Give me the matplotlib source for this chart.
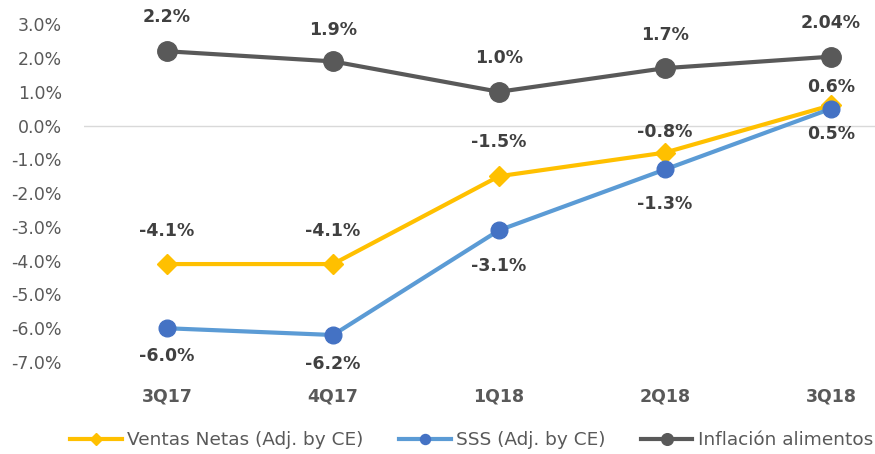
import numpy as np
import matplotlib.pyplot as plt

quarters = ['3Q17', '4Q17', '1Q18', '2Q18', '3Q18']
ventas_netas = [-4.1, -4.1, -1.5, -0.8, 0.6]
sss = [-6.0, -6.2, -3.1, -1.3, 0.5]
inflacion = [2.2, 1.9, 1.0, 1.7, 2.04]
inflacion_labels = ['2.2%', '1.9%', '1.0%', '1.7%', '2.04%']
yticks = np.arange(-7, 4, 1)

# label offsets (pixels, + above / - below the point)
ventas_off = [33, 33, 34, 21, 18]
sss_off = [-28, -29, -36, -35, -25]
infl_off = [34, 31, 34, 33, 34]

plt.rcParams['font.family'] = ['DejaVu Sans']
txt_color = '#595959'

fig = plt.figure(figsize=(8.75, 4.54), dpi=100)
ax = fig.add_axes([0.096, 0.2026, 0.904, 0.744])

x = np.arange(len(quarters))
ax.axhline(0, color='#D9D9D9', lw=1, zorder=1)

ax.plot(x, ventas_netas, color='#FFC000', lw=3, marker='D', ms=10,
        label='Ventas Netas (Adj. by CE)', zorder=3)
ax.plot(x, sss, color='#5B9BD5', lw=3, marker='o', ms=12,
        markerfacecolor='#4472C4', markeredgecolor='#4472C4',
        label='SSS (Adj. by CE)', zorder=3)
ax.plot(x, inflacion, color='#595959', lw=3, marker='o', ms=14,
        label='Inflación alimentos', zorder=3)

lab_kw = dict(ha='center', va='center', fontsize=12.5, fontweight='bold', color='#404040',
              textcoords='offset pixels')
for xi, v, o in zip(x, ventas_netas, ventas_off):
    ax.annotate(f'{v:.1f}%', (xi, v), xytext=(0, o), **lab_kw)
for xi, v, o in zip(x, sss, sss_off):
    ax.annotate(f'{v:.1f}%', (xi, v), xytext=(0, o), **lab_kw)
for xi, v, t, o in zip(x, inflacion, inflacion_labels, infl_off):
    ax.annotate(t, (xi, v), xytext=(0, o), **lab_kw)

ax.set_xlim(-0.5, 4.265)
ax.set_ylim(-7, 3)
ax.set_yticks(yticks)
ax.set_yticklabels([f'{v:.1f}%' for v in yticks])
ax.set_xticks(x)
ax.set_xticklabels(quarters, fontweight='bold')
ax.tick_params(axis='y', length=0, pad=16, labelsize=12.5, labelcolor=txt_color)
ax.tick_params(axis='x', length=0, pad=18, labelsize=12.5, labelcolor=txt_color)
for s in ax.spines.values():
    s.set_visible(False)

fig.legend(loc='center', bbox_to_anchor=(0.539, 0.03), ncol=3, frameon=False,
           fontsize=13.3, labelcolor=txt_color, handlelength=2.8, markerscale=0.6,
           columnspacing=1.9, handletextpad=0.3)

fig.savefig('out.png', dpi=100)
